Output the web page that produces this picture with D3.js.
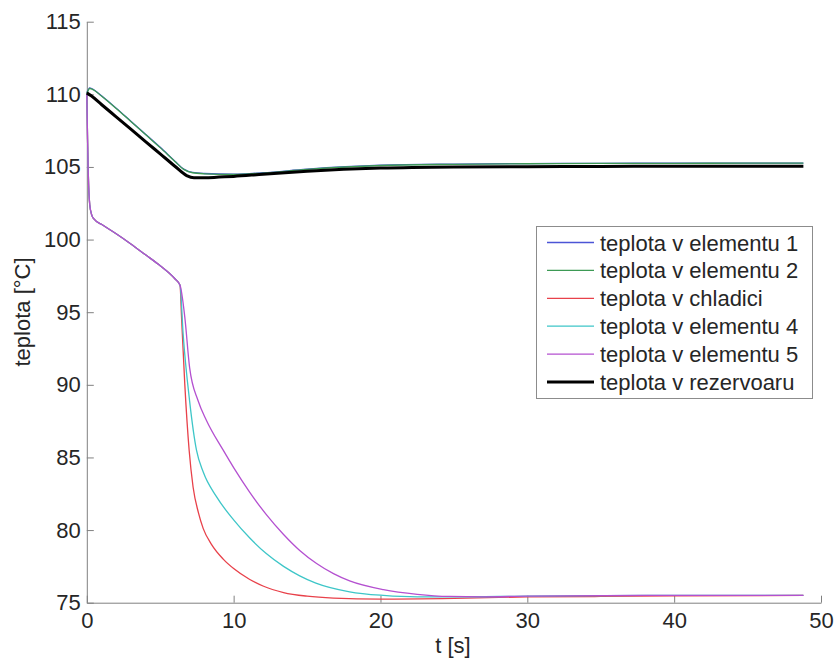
<!DOCTYPE html>
<html>
<head>
<meta charset="utf-8">
<script src="https://cdn.jsdelivr.net/npm/d3@7"></script>
<style>
  body { margin: 0; background: #fff; }
  text { font-family: "Liberation Sans", Arial, sans-serif; fill: #262626; }
</style>
</head>
<body>
<script>
// values, [t in s, temperature in °C]
var element1 = [[0,110.1],[0.2,110.45],[0.5,110.3],[1,109.9],[2,109.05],[3,108.15],[4,107.25],[5,106.35],[6,105.4],[6.6,104.85],[7.2,104.62],[8,104.55],[10,104.5],[12,104.6],[15,104.85],[20,105.12],[25,105.2],[30,105.23],[35,105.25],[40,105.26],[45,105.27],[48.8,105.27]];
var element2 = [[0,110.05],[0.2,110.4],[0.5,110.28],[1,109.88],[2,109.03],[3,108.13],[4,107.23],[5,106.33],[6,105.38],[6.6,104.83],[7.2,104.6],[8,104.53],[10,104.48],[12,104.58],[15,104.83],[20,105.1],[25,105.18],[30,105.22],[35,105.24],[40,105.25],[45,105.26],[48.8,105.26]];
// common first part of the three cooled series (before t = 6.35 s)
var coolStart = [[0,110],[0.05,107],[0.1,104.6],[0.2,102.4],[0.35,101.65],[0.5,101.4],[1,101.05],[2,100.4],[3,99.7],[4,98.95],[5,98.2],[6,97.3],[6.35,96.85]];
var chladic = coolStart.concat([[6.45,94.7],[6.67,90.1],[6.97,85.5],[7.24,82.95],[7.6,81.2],[7.93,80.1],[8.5,79.0],[9.29,78.0],[10,77.35],[11.1,76.6],[12,76.15],[13.4,75.7],[15,75.45],[16.8,75.32],[20,75.25],[25,75.3],[30,75.4],[35,75.43],[40,75.47],[48.8,75.5]]);
var element4 = coolStart.concat([[6.56,93.5],[7,88.9],[7.47,85.5],[7.93,84.0],[8.83,82.3],[10,80.7],[11.1,79.45],[12.2,78.4],[13.4,77.5],[14.5,76.85],[15.6,76.35],[17.9,75.75],[20.2,75.5],[22.5,75.4],[25,75.4],[30,75.45],[40,75.5],[48.8,75.5]]);
var element5 = coolStart.concat([[6.67,94.7],[7,91.2],[7.58,88.9],[8.15,87.55],[9.29,85.5],[10,84.3],[11.1,82.6],[12.2,81.1],[13.4,79.7],[14.5,78.6],[15.65,77.7],[16.8,77.0],[17.9,76.5],[20.2,75.9],[22.5,75.58],[24.7,75.43],[27,75.4],[30,75.45],[40,75.5],[48.8,75.5]]);
var rezervoar = [[0,110.1],[0.3,109.9],[1,109.3],[2,108.45],[3,107.6],[4,106.75],[5,105.9],[6,105.05],[6.8,104.4],[7.3,104.25],[8,104.25],[9,104.3],[10,104.35],[12,104.5],[15,104.7],[20,104.92],[25,105],[30,105.02],[35,105.03],[40,105.05],[45,105.05],[48.8,105.05]];

var seriesNames = ["teplota v elementu 1", "teplota v elementu 2", "teplota v chladici",
                   "teplota v elementu 4", "teplota v elementu 5", "teplota v rezervoaru"];
var seriesData = [element1, element2, chladic, element4, element5, rezervoar];
var seriesColors = ["#4b55d6", "#3d9a55", "#e8414a", "#3ec6c8", "#b450d0", "#000000"];
var seriesWidths = [1.3, 1.3, 1.3, 1.3, 1.3, 3];

var xTicks = [0, 10, 20, 30, 40, 50];
var yTicks = [75, 80, 85, 90, 95, 100, 105, 110, 115];

var width = 837, height = 661;

var svg = d3.select("body").append("svg")
    .attr("width", width)
    .attr("height", height);

var x = d3.scaleLinear().domain([0, 50]).range([86.8, 821]);
var y = d3.scaleLinear().domain([75, 115]).range([602.7, 21.7]);

//axes, MATLAB style with ticks pointing inwards
var xAxis = svg.append("g")
    .attr("transform", "translate(0," + y(75) + ")")
    .call(d3.axisBottom(x).tickValues(xTicks).tickSizeInner(-7).tickSizeOuter(0).tickPadding(10));
var yAxis = svg.append("g")
    .attr("transform", "translate(" + x(0) + ",0)")
    .call(d3.axisLeft(y).tickValues(yTicks).tickSizeInner(-7).tickSizeOuter(0).tickPadding(6));

[xAxis, yAxis].forEach(function(g){
    g.selectAll("path, line").attr("stroke", "#808080");
    g.selectAll("text").style("font-size", "22px").attr("fill", "#262626");
});

//lines
var line = d3.line()
    .x(function(d){ return x(d[0]); })
    .y(function(d){ return y(d[1]); })
    .curve(d3.curveMonotoneX);

svg.selectAll(".series")
    .data(seriesData)
    .enter()
    .append("path")
    .attr("class", "series")
    .attr("fill", "none")
    .attr("stroke", function(d, i){ return seriesColors[i]; })
    .attr("stroke-width", function(d, i){ return seriesWidths[i]; })
    .attr("stroke-linejoin", "round")
    .attr("d", line);

//axis labels
svg.append("text")
    .attr("x", 453).attr("y", 653)
    .attr("text-anchor", "middle")
    .style("font-size", "22px")
    .text("t [s]");

svg.append("text")
    .attr("transform", "translate(30,312) rotate(-90)")
    .attr("text-anchor", "middle")
    .style("font-size", "22px")
    .text("teplota [°C]");

//legend
var legend = svg.append("g");
legend.append("rect")
    .attr("x", 536.5).attr("y", 226.5)
    .attr("width", 276).attr("height", 172)
    .attr("fill", "#fff")
    .attr("stroke", "#8c8c8c");

var rows = legend.selectAll(".row")
    .data(seriesNames)
    .enter()
    .append("g")
    .attr("class", "row")
    .attr("transform", function(d, i){ return "translate(0," + (242.5 + i * 27.9) + ")"; });

rows.append("line")
    .attr("x1", 547).attr("x2", 594)
    .attr("stroke", function(d, i){ return seriesColors[i]; })
    .attr("stroke-width", function(d, i){ return seriesWidths[i]; });

rows.append("text")
    .attr("x", 600).attr("y", 8)
    .style("font-size", "22px")
    .text(function(d){ return d; });
</script>
</body>
</html>
